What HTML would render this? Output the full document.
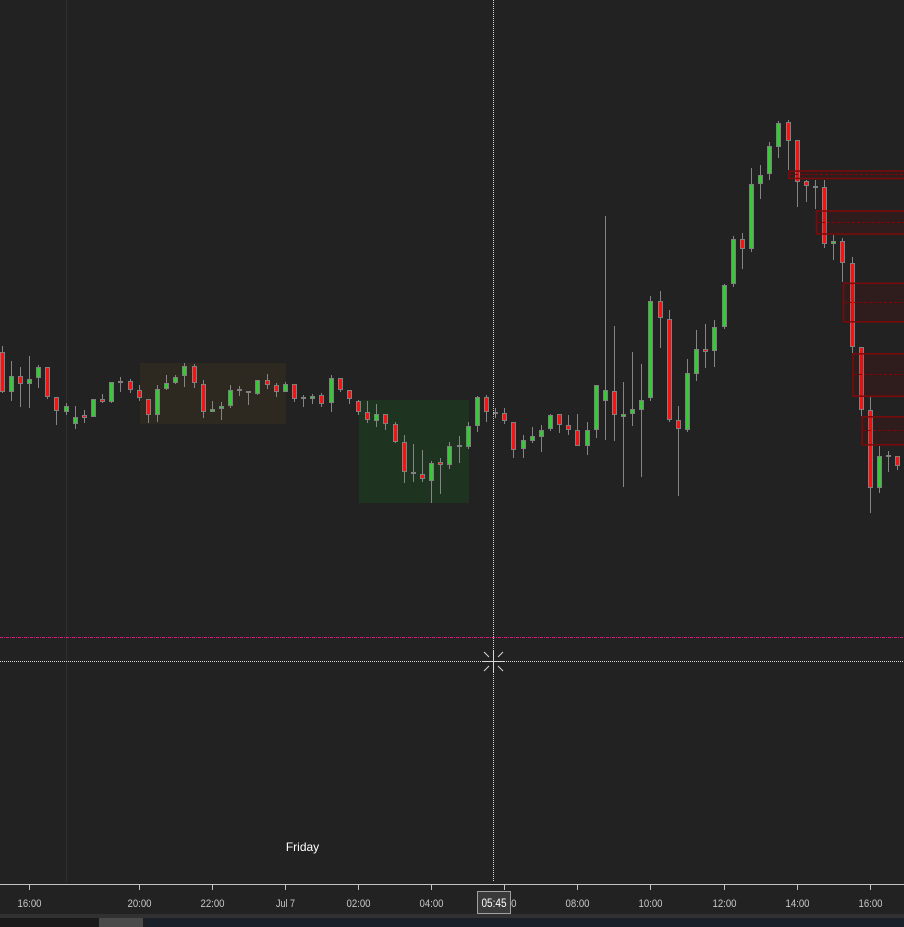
<!DOCTYPE html>
<html><head><meta charset="utf-8"><style>
html,body{margin:0;padding:0;background:#222222;}
svg{display:block;}
text{font-family:"Liberation Sans",sans-serif;}
</style></head><body>
<svg width="904" height="927" viewBox="0 0 904 927" xmlns="http://www.w3.org/2000/svg">
<rect x="0" y="0" width="904" height="927" fill="#222222"/>
<!-- session divider -->
<rect x="66" y="0" width="1" height="882" fill="#2f2f2f"/>
<!-- zones -->
<rect x="140" y="363" width="146" height="61" fill="#2d2820"/>
<rect x="359" y="400" width="110" height="103" fill="#1f3321"/>
<!-- pink line -->
<line x1="0" y1="637.5" x2="904" y2="637.5" stroke="#e0157f" stroke-width="1" stroke-dasharray="3,1,1,1"/>
<!-- wicks -->
<path fill="none" stroke="#858585" stroke-width="1" d="M2.5 346V393M11.5 361V401M20.5 367V407M29.5 356V408M38.5 365V388M47.5 367V399M56.5 397V425M66.5 403V415M75.5 406V429M84.5 410V423M93.5 399V417M102.5 394V403M111.5 382V403M120.5 377V392M130.5 379V393M139.5 385V401M148.5 399V423M157.5 385V422M166.5 375V390M175.5 375V384M184.5 363V387M194.5 364V388M203.5 380V418M212.5 401V412M221.5 402V420M230.5 385V408M239.5 386V396M248.5 391V405M257.5 380V395M267.5 374V389M276.5 383V397M285.5 382V392M294.5 384V402M303.5 395V407M312.5 394V404M321.5 393V407M331.5 375V412M340.5 378V392M349.5 390V404M358.5 400V415M367.5 401V423M376.5 404V427M385.5 414V430M395.5 422V443M404.5 435V483M413.5 444V482M422.5 450V482M431.5 461V503M440.5 458V494M449.5 442V469M459.5 436V463M468.5 422V449M477.5 396V432M486.5 395V422M495.5 408V418M504.5 408V424M513.5 422V458M523.5 435V458M532.5 427V443M541.5 425V452M550.5 414V431M559.5 414V433M568.5 415V435M577.5 414V446M587.5 422V455M596.5 385V438M605.5 216V440M614.5 326V441M623.5 382V487M632.5 352V426M641.5 364V477M650.5 296V401M660.5 291V348M669.5 310V422M678.5 406V496M687.5 359V432M696.5 330V381M705.5 324V368M714.5 320V367M724.5 284V329M733.5 236V287M742.5 233V269M751.5 168V252M760.5 165V199M769.5 142V180M778.5 121V158M788.5 120V170M797.5 140V207M806.5 180V202M815.5 180V209M824.5 180V248M833.5 235V260M842.5 238V282M852.5 257V353M861.5 347V416M870.5 397V513M879.5 446V493M888.5 451V472M897.5 456V470"/>
<!-- body outlines -->
<g fill="#808080" shape-rendering="crispEdges">
<rect x="0" y="352" width="5" height="40"/><rect x="9" y="376" width="5" height="16"/><rect x="18" y="376" width="5" height="8"/><rect x="27" y="379" width="5" height="5"/><rect x="36" y="367" width="5" height="11"/><rect x="45" y="367" width="5" height="30"/><rect x="54" y="397" width="5" height="14"/><rect x="64" y="406" width="5" height="6"/><rect x="73" y="417" width="5" height="7"/><rect x="82" y="415" width="5" height="3"/><rect x="91" y="399" width="5" height="18"/><rect x="100" y="399" width="5" height="3"/><rect x="109" y="382" width="5" height="20"/><rect x="118" y="381" width="5" height="2"/><rect x="128" y="381" width="5" height="9"/><rect x="137" y="390" width="5" height="8"/><rect x="146" y="399" width="5" height="16"/><rect x="155" y="389" width="5" height="26"/><rect x="164" y="383" width="5" height="6"/><rect x="173" y="377" width="5" height="6"/><rect x="182" y="366" width="5" height="10"/><rect x="192" y="366" width="5" height="17"/><rect x="201" y="384" width="5" height="28"/><rect x="210" y="409" width="5" height="3"/><rect x="219" y="406" width="5" height="3"/><rect x="228" y="390" width="5" height="16"/><rect x="237" y="389" width="5" height="2"/><rect x="246" y="391" width="5" height="2"/><rect x="255" y="380" width="5" height="14"/><rect x="265" y="380" width="5" height="5"/><rect x="274" y="385" width="5" height="7"/><rect x="283" y="384" width="5" height="8"/><rect x="292" y="384" width="5" height="15"/><rect x="301" y="397" width="5" height="2"/><rect x="310" y="396" width="5" height="3"/><rect x="319" y="395" width="5" height="9"/><rect x="329" y="378" width="5" height="25"/><rect x="338" y="378" width="5" height="12"/><rect x="347" y="390" width="5" height="9"/><rect x="356" y="401" width="5" height="11"/><rect x="365" y="412" width="5" height="8"/><rect x="374" y="414" width="5" height="7"/><rect x="383" y="414" width="5" height="10"/><rect x="393" y="424" width="5" height="18"/><rect x="402" y="442" width="5" height="30"/><rect x="411" y="472" width="5" height="2"/><rect x="420" y="474" width="5" height="5"/><rect x="429" y="463" width="5" height="18"/><rect x="438" y="462" width="5" height="3"/><rect x="447" y="446" width="5" height="19"/><rect x="457" y="445" width="5" height="2"/><rect x="466" y="426" width="5" height="21"/><rect x="475" y="397" width="5" height="29"/><rect x="484" y="397" width="5" height="15"/><rect x="493" y="412" width="5" height="2"/><rect x="502" y="413" width="5" height="8"/><rect x="511" y="422" width="5" height="28"/><rect x="521" y="440" width="5" height="9"/><rect x="530" y="436" width="5" height="5"/><rect x="539" y="430" width="5" height="7"/><rect x="548" y="415" width="5" height="14"/><rect x="557" y="414" width="5" height="11"/><rect x="566" y="425" width="5" height="5"/><rect x="575" y="430" width="5" height="16"/><rect x="585" y="430" width="5" height="16"/><rect x="594" y="385" width="5" height="45"/><rect x="603" y="390" width="5" height="11"/><rect x="612" y="391" width="5" height="24"/><rect x="621" y="414" width="5" height="3"/><rect x="630" y="409" width="5" height="5"/><rect x="639" y="400" width="5" height="10"/><rect x="648" y="301" width="5" height="97"/><rect x="658" y="301" width="5" height="17"/><rect x="667" y="319" width="5" height="101"/><rect x="676" y="420" width="5" height="9"/><rect x="685" y="373" width="5" height="57"/><rect x="694" y="349" width="5" height="25"/><rect x="703" y="349" width="5" height="3"/><rect x="712" y="327" width="5" height="24"/><rect x="722" y="285" width="5" height="42"/><rect x="731" y="239" width="5" height="45"/><rect x="740" y="239" width="5" height="10"/><rect x="749" y="184" width="5" height="65"/><rect x="758" y="175" width="5" height="9"/><rect x="767" y="146" width="5" height="28"/><rect x="776" y="123" width="5" height="24"/><rect x="786" y="122" width="5" height="19"/><rect x="795" y="140" width="5" height="42"/><rect x="804" y="181" width="5" height="5"/><rect x="813" y="186" width="5" height="2"/><rect x="822" y="187" width="5" height="57"/><rect x="831" y="241" width="5" height="3"/><rect x="840" y="241" width="5" height="22"/><rect x="850" y="263" width="5" height="84"/><rect x="859" y="347" width="5" height="63"/><rect x="868" y="410" width="5" height="78"/><rect x="877" y="456" width="5" height="32"/><rect x="886" y="455" width="5" height="2"/><rect x="895" y="456" width="5" height="10"/>
</g>
<!-- red bodies -->
<g fill="#ff1010" shape-rendering="crispEdges">
<rect x="1" y="353" width="3" height="38"/><rect x="19" y="377" width="3" height="6"/><rect x="46" y="368" width="3" height="28"/><rect x="55" y="398" width="3" height="12"/><rect x="83" y="416" width="3" height="1"/><rect x="101" y="400" width="3" height="1"/><rect x="129" y="382" width="3" height="7"/><rect x="138" y="391" width="3" height="6"/><rect x="147" y="400" width="3" height="14"/><rect x="193" y="367" width="3" height="15"/><rect x="202" y="385" width="3" height="26"/><rect x="266" y="381" width="3" height="3"/><rect x="275" y="386" width="3" height="5"/><rect x="293" y="385" width="3" height="13"/><rect x="320" y="396" width="3" height="7"/><rect x="339" y="379" width="3" height="10"/><rect x="348" y="391" width="3" height="7"/><rect x="357" y="402" width="3" height="9"/><rect x="366" y="413" width="3" height="6"/><rect x="384" y="415" width="3" height="8"/><rect x="394" y="425" width="3" height="16"/><rect x="403" y="443" width="3" height="28"/><rect x="421" y="475" width="3" height="3"/><rect x="439" y="463" width="3" height="1"/><rect x="485" y="398" width="3" height="13"/><rect x="503" y="414" width="3" height="6"/><rect x="512" y="423" width="3" height="26"/><rect x="558" y="415" width="3" height="9"/><rect x="567" y="426" width="3" height="3"/><rect x="576" y="431" width="3" height="14"/><rect x="613" y="392" width="3" height="22"/><rect x="659" y="302" width="3" height="15"/><rect x="668" y="320" width="3" height="99"/><rect x="677" y="421" width="3" height="7"/><rect x="704" y="350" width="3" height="1"/><rect x="741" y="240" width="3" height="8"/><rect x="787" y="123" width="3" height="17"/><rect x="796" y="141" width="3" height="40"/><rect x="805" y="182" width="3" height="3"/><rect x="823" y="188" width="3" height="55"/><rect x="841" y="242" width="3" height="20"/><rect x="851" y="264" width="3" height="82"/><rect x="860" y="348" width="3" height="61"/><rect x="869" y="411" width="3" height="76"/><rect x="896" y="457" width="3" height="8"/>
</g>
<!-- green bodies -->
<g fill="#32cd32" shape-rendering="crispEdges">
<rect x="10" y="377" width="3" height="14"/><rect x="28" y="380" width="3" height="3"/><rect x="37" y="368" width="3" height="9"/><rect x="65" y="407" width="3" height="4"/><rect x="74" y="418" width="3" height="5"/><rect x="92" y="400" width="3" height="16"/><rect x="110" y="383" width="3" height="18"/><rect x="156" y="390" width="3" height="24"/><rect x="165" y="384" width="3" height="4"/><rect x="174" y="378" width="3" height="4"/><rect x="183" y="367" width="3" height="8"/><rect x="211" y="410" width="3" height="1"/><rect x="220" y="407" width="3" height="1"/><rect x="229" y="391" width="3" height="14"/><rect x="256" y="381" width="3" height="12"/><rect x="284" y="385" width="3" height="6"/><rect x="311" y="397" width="3" height="1"/><rect x="330" y="379" width="3" height="23"/><rect x="375" y="415" width="3" height="5"/><rect x="430" y="464" width="3" height="16"/><rect x="448" y="447" width="3" height="17"/><rect x="467" y="427" width="3" height="19"/><rect x="476" y="398" width="3" height="27"/><rect x="522" y="441" width="3" height="7"/><rect x="531" y="437" width="3" height="3"/><rect x="540" y="431" width="3" height="5"/><rect x="549" y="416" width="3" height="12"/><rect x="586" y="431" width="3" height="14"/><rect x="595" y="386" width="3" height="43"/><rect x="604" y="391" width="3" height="9"/><rect x="622" y="415" width="3" height="1"/><rect x="631" y="410" width="3" height="3"/><rect x="640" y="401" width="3" height="8"/><rect x="649" y="302" width="3" height="95"/><rect x="686" y="374" width="3" height="55"/><rect x="695" y="350" width="3" height="23"/><rect x="713" y="328" width="3" height="22"/><rect x="723" y="286" width="3" height="40"/><rect x="732" y="240" width="3" height="43"/><rect x="750" y="185" width="3" height="63"/><rect x="759" y="176" width="3" height="7"/><rect x="768" y="147" width="3" height="26"/><rect x="777" y="124" width="3" height="22"/><rect x="832" y="242" width="3" height="1"/><rect x="878" y="457" width="3" height="30"/>
</g>
<!-- supply zones -->
<g fill="rgba(128,0,0,0.15)" stroke="#7d0a0a" stroke-width="1.5">
<rect x="789" y="171" width="130" height="7.5"/>
<rect x="816.5" y="211" width="100" height="23"/>
<rect x="843.5" y="283.3" width="80" height="38.5"/>
<rect x="853.2" y="353.8" width="70" height="42.4"/>
<rect x="862.2" y="416.8" width="60" height="28"/>
</g>
<g stroke="#8b0000" stroke-width="1" stroke-dasharray="3,2">
<line x1="790" y1="174.5" x2="904" y2="174.5"/>
<line x1="817" y1="222.5" x2="904" y2="222.5"/>
<line x1="844" y1="302.5" x2="904" y2="302.5"/>
<line x1="854" y1="374.5" x2="904" y2="374.5"/>
<line x1="863" y1="430.5" x2="904" y2="430.5"/>
</g>
<!-- crosshair -->
<g stroke="#d8d8d8" stroke-width="1">
<line x1="493.5" y1="0" x2="493.5" y2="651" stroke-dasharray="1,1"/>
<line x1="493.5" y1="672" x2="493.5" y2="882" stroke-dasharray="1,1"/>
<line x1="0" y1="661.5" x2="483" y2="661.5" stroke-dasharray="1,1"/>
<line x1="504" y1="661.5" x2="904" y2="661.5" stroke-dasharray="1,1"/>
<line x1="483" y1="661.5" x2="504" y2="661.5"/>
<line x1="493.5" y1="651" x2="493.5" y2="672"/>
<line x1="484" y1="652" x2="489" y2="657"/>
<line x1="503" y1="652" x2="498" y2="657"/>
<line x1="484" y1="671" x2="489" y2="666"/>
<line x1="503" y1="671" x2="498" y2="666"/>
</g>
<text x="302.5" y="851" font-size="12" fill="#ffffff" text-anchor="middle">Friday</text>
<!-- axis -->
<rect x="0" y="884" width="904" height="1" fill="#c4c4c4"/>
<path stroke="#c4c4c4" stroke-width="1" d="M29.5 885V890M139.5 885V890M212.5 885V890M285.5 885V890M358.5 885V890M431.5 885V890M504.5 885V890M577.5 885V890M650.5 885V890M724.5 885V890M797.5 885V890M870.5 885V890"/>
<g font-size="11" fill="#c8c8c8" text-anchor="middle">
<text x="29.5" y="907" textLength="24" lengthAdjust="spacingAndGlyphs">16:00</text>
<text x="139.5" y="907" textLength="24" lengthAdjust="spacingAndGlyphs">20:00</text>
<text x="212.5" y="907" textLength="24" lengthAdjust="spacingAndGlyphs">22:00</text>
<text x="285.5" y="907" textLength="19" lengthAdjust="spacingAndGlyphs">Jul 7</text>
<text x="358.5" y="907" textLength="24" lengthAdjust="spacingAndGlyphs">02:00</text>
<text x="431.5" y="907" textLength="24" lengthAdjust="spacingAndGlyphs">04:00</text>
<text x="504.5" y="907" textLength="24" lengthAdjust="spacingAndGlyphs">06:00</text>
<text x="577.5" y="907" textLength="24" lengthAdjust="spacingAndGlyphs">08:00</text>
<text x="650.5" y="907" textLength="24" lengthAdjust="spacingAndGlyphs">10:00</text>
<text x="724.5" y="907" textLength="24" lengthAdjust="spacingAndGlyphs">12:00</text>
<text x="797.5" y="907" textLength="24" lengthAdjust="spacingAndGlyphs">14:00</text>
<text x="870.5" y="907" textLength="24" lengthAdjust="spacingAndGlyphs">16:00</text>
</g>
<rect x="477.5" y="891.5" width="33" height="22" fill="#3a3a3a" stroke="#a0a0a0" stroke-width="1"/>
<text x="494" y="907" font-size="11.5" fill="#ffffff" text-anchor="middle" textLength="25" lengthAdjust="spacingAndGlyphs">05:45</text>
<!-- bottom scrollbar -->
<rect x="0" y="914" width="904" height="4" fill="#313131"/>
<rect x="0" y="918" width="99" height="9" fill="#1b1919"/>
<rect x="99" y="918" width="44" height="9" fill="#4a4a4a"/>
<rect x="143" y="918" width="3" height="9" fill="#1e1e1e"/>
<rect x="146" y="918" width="758" height="9" fill="#1a2029"/>
</svg>
</body></html>
